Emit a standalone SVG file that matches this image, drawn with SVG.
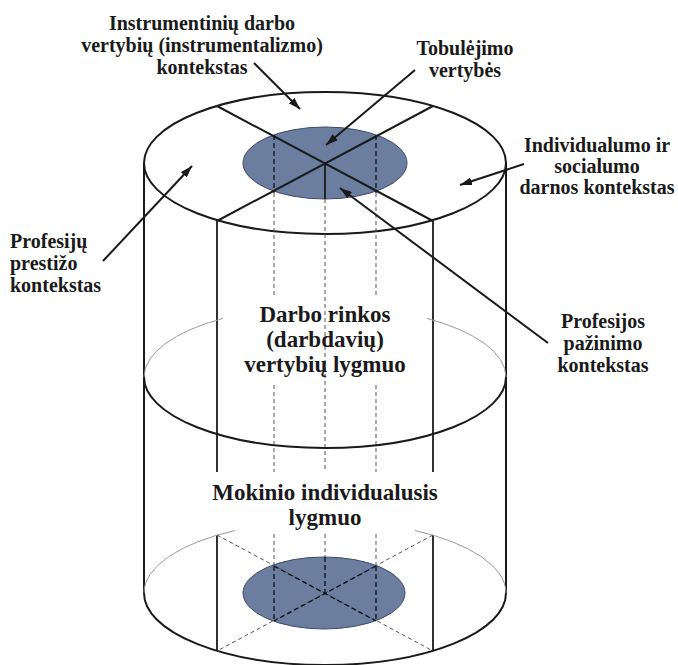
<svg xmlns="http://www.w3.org/2000/svg" width="678" height="665" viewBox="0 0 678 665">
<style>
.lbl{font-family:"Liberation Serif","Times New Roman",serif;font-weight:bold;font-size:20px;fill:#1a1a1a}
.big{font-size:23px}
.solid{stroke:#1a1a1a;stroke-width:2;fill:none}
.thin{stroke:#1a1a1a;stroke-width:1.8;fill:none}
.gray{stroke:#9a9a9a;stroke-width:1;fill:none}
.dash{stroke:#555;stroke-width:1;stroke-dasharray:4 3;fill:none}
.ddark{stroke:#0d1018;stroke-width:1.3;stroke-dasharray:5 3;fill:none}
.inner{fill:#6b7ea0;stroke:#3d4b66;stroke-width:1}
.arrow{stroke:#1a1a1a;stroke-width:2;fill:none;marker-end:url(#ah)}
</style>
<defs>
<marker id="ah" viewBox="0 0 12 8" refX="12" refY="4" markerWidth="12" markerHeight="8" markerUnits="userSpaceOnUse" orient="auto">
<path d="M0,0 L12,4 L0,8 z" fill="#1a1a1a"/>
</marker>
</defs>
<rect width="678" height="665" fill="#fff"/>

<g id="cylinder">
<line class="solid" x1="144" y1="163" x2="144" y2="593"/>
<line class="solid" x1="506" y1="163" x2="506" y2="593"/>
<ellipse cx="325" cy="163" rx="181" ry="71" fill="#fff" stroke="#1a1a1a" stroke-width="2"/>
<ellipse class="inner" cx="325" cy="163" rx="82" ry="36"/>
<line class="solid" x1="217" y1="106" x2="433" y2="221"/>
<line class="solid" x1="433" y1="106" x2="217" y2="221"/>
<line class="thin" x1="325" y1="163" x2="325" y2="199"/>
<line class="ddark" x1="274" y1="135" x2="274" y2="193"/>
<line class="ddark" x1="376" y1="135" x2="376" y2="193"/>
<line class="thin" x1="217" y1="221" x2="217" y2="472"/>
<line class="thin" x1="433" y1="221" x2="433" y2="472"/>
<line class="thin" x1="217" y1="535" x2="217" y2="651"/>
<line class="thin" x1="433" y1="535" x2="433" y2="651"/>
<line class="dash" x1="274" y1="193" x2="274" y2="297"/>
<line class="dash" x1="376" y1="193" x2="376" y2="297"/>
<line class="dash" x1="274" y1="385" x2="274" y2="472"/>
<line class="dash" x1="376" y1="385" x2="376" y2="472"/>
<line class="dash" x1="325" y1="199" x2="325" y2="472"/>
<path class="gray" d="M144,377 A181,71 0 0 1 223,318.4"/>
<path class="gray" d="M427,318.4 A181,71 0 0 1 506,377"/>
<path class="solid" d="M144,377 A181,71 0 0 0 506,377"/>
<path class="gray" d="M144,593 A181,72 0 0 1 235,530.5"/>
<path class="gray" d="M415,530.5 A181,72 0 0 1 506,593"/>
<path class="solid" d="M144,593 A181,72 0 0 0 506,593"/>
<ellipse class="inner" cx="324" cy="593" rx="81" ry="36"/>
<line class="dash" x1="217" y1="535" x2="433" y2="651"/>
<line class="dash" x1="433" y1="535" x2="217" y2="651"/>
<line class="dash" x1="274" y1="534" x2="274" y2="566"/>
<line class="dash" x1="376" y1="534" x2="376" y2="566"/>
<line class="dash" x1="325" y1="534" x2="325" y2="557"/>
<line class="ddark" x1="274" y1="566" x2="274" y2="621"/>
<line class="ddark" x1="376" y1="566" x2="376" y2="621"/>
<line class="ddark" x1="325" y1="557" x2="325" y2="593"/>
<line class="ddark" x1="274" y1="566" x2="376" y2="621"/>
<line class="ddark" x1="376" y1="566" x2="274" y2="621"/>
</g>

<g id="level-market">
<text class="lbl big" x="325" y="322" text-anchor="middle">Darbo rinkos</text>
<text class="lbl big" x="325" y="347" text-anchor="middle">(darbdavių)</text>
<text class="lbl big" x="325" y="372" text-anchor="middle">vertybių lygmuo</text>
</g>
<g id="level-student">
<text class="lbl big" x="325" y="500" text-anchor="middle">Mokinio individualusis</text>
<text class="lbl big" x="325" y="525" text-anchor="middle">lygmuo</text>
</g>
<g id="label-instrumental">
<text class="lbl" x="202" y="30" text-anchor="middle">Instrumentinių darbo</text>
<text class="lbl" x="202" y="52" text-anchor="middle">vertybių (instrumentalizmo)</text>
<text class="lbl" x="202" y="74" text-anchor="middle">kontekstas</text>
</g>
<g id="label-improvement">
<text class="lbl" x="465" y="55" text-anchor="middle">Tobulėjimo</text>
<text class="lbl" x="465" y="77" text-anchor="middle">vertybės</text>
</g>
<g id="label-individual">
<text class="lbl" x="597" y="152" text-anchor="middle">Individualumo ir</text>
<text class="lbl" x="597" y="173" text-anchor="middle">socialumo</text>
<text class="lbl" x="597" y="194" text-anchor="middle">darnos kontekstas</text>
</g>
<g id="label-prestige">
<text class="lbl" x="10" y="248">Profesijų</text>
<text class="lbl" x="10" y="270">prestižo</text>
<text class="lbl" x="10" y="292">kontekstas</text>
</g>
<g id="label-cognition">
<text class="lbl" x="603" y="328" text-anchor="middle">Profesijos</text>
<text class="lbl" x="603" y="350" text-anchor="middle">pažinimo</text>
<text class="lbl" x="603" y="372" text-anchor="middle">kontekstas</text>
</g>

<g id="connectors">
<line class="arrow" x1="254" y1="63" x2="300" y2="109"/>
<line class="arrow" x1="415" y1="70" x2="326" y2="145"/>
<line class="arrow" x1="524" y1="164" x2="460" y2="185"/>
<line class="arrow" x1="103" y1="261" x2="192" y2="166"/>
<line class="arrow" x1="548" y1="343" x2="340" y2="188"/>
</g>
</svg>
